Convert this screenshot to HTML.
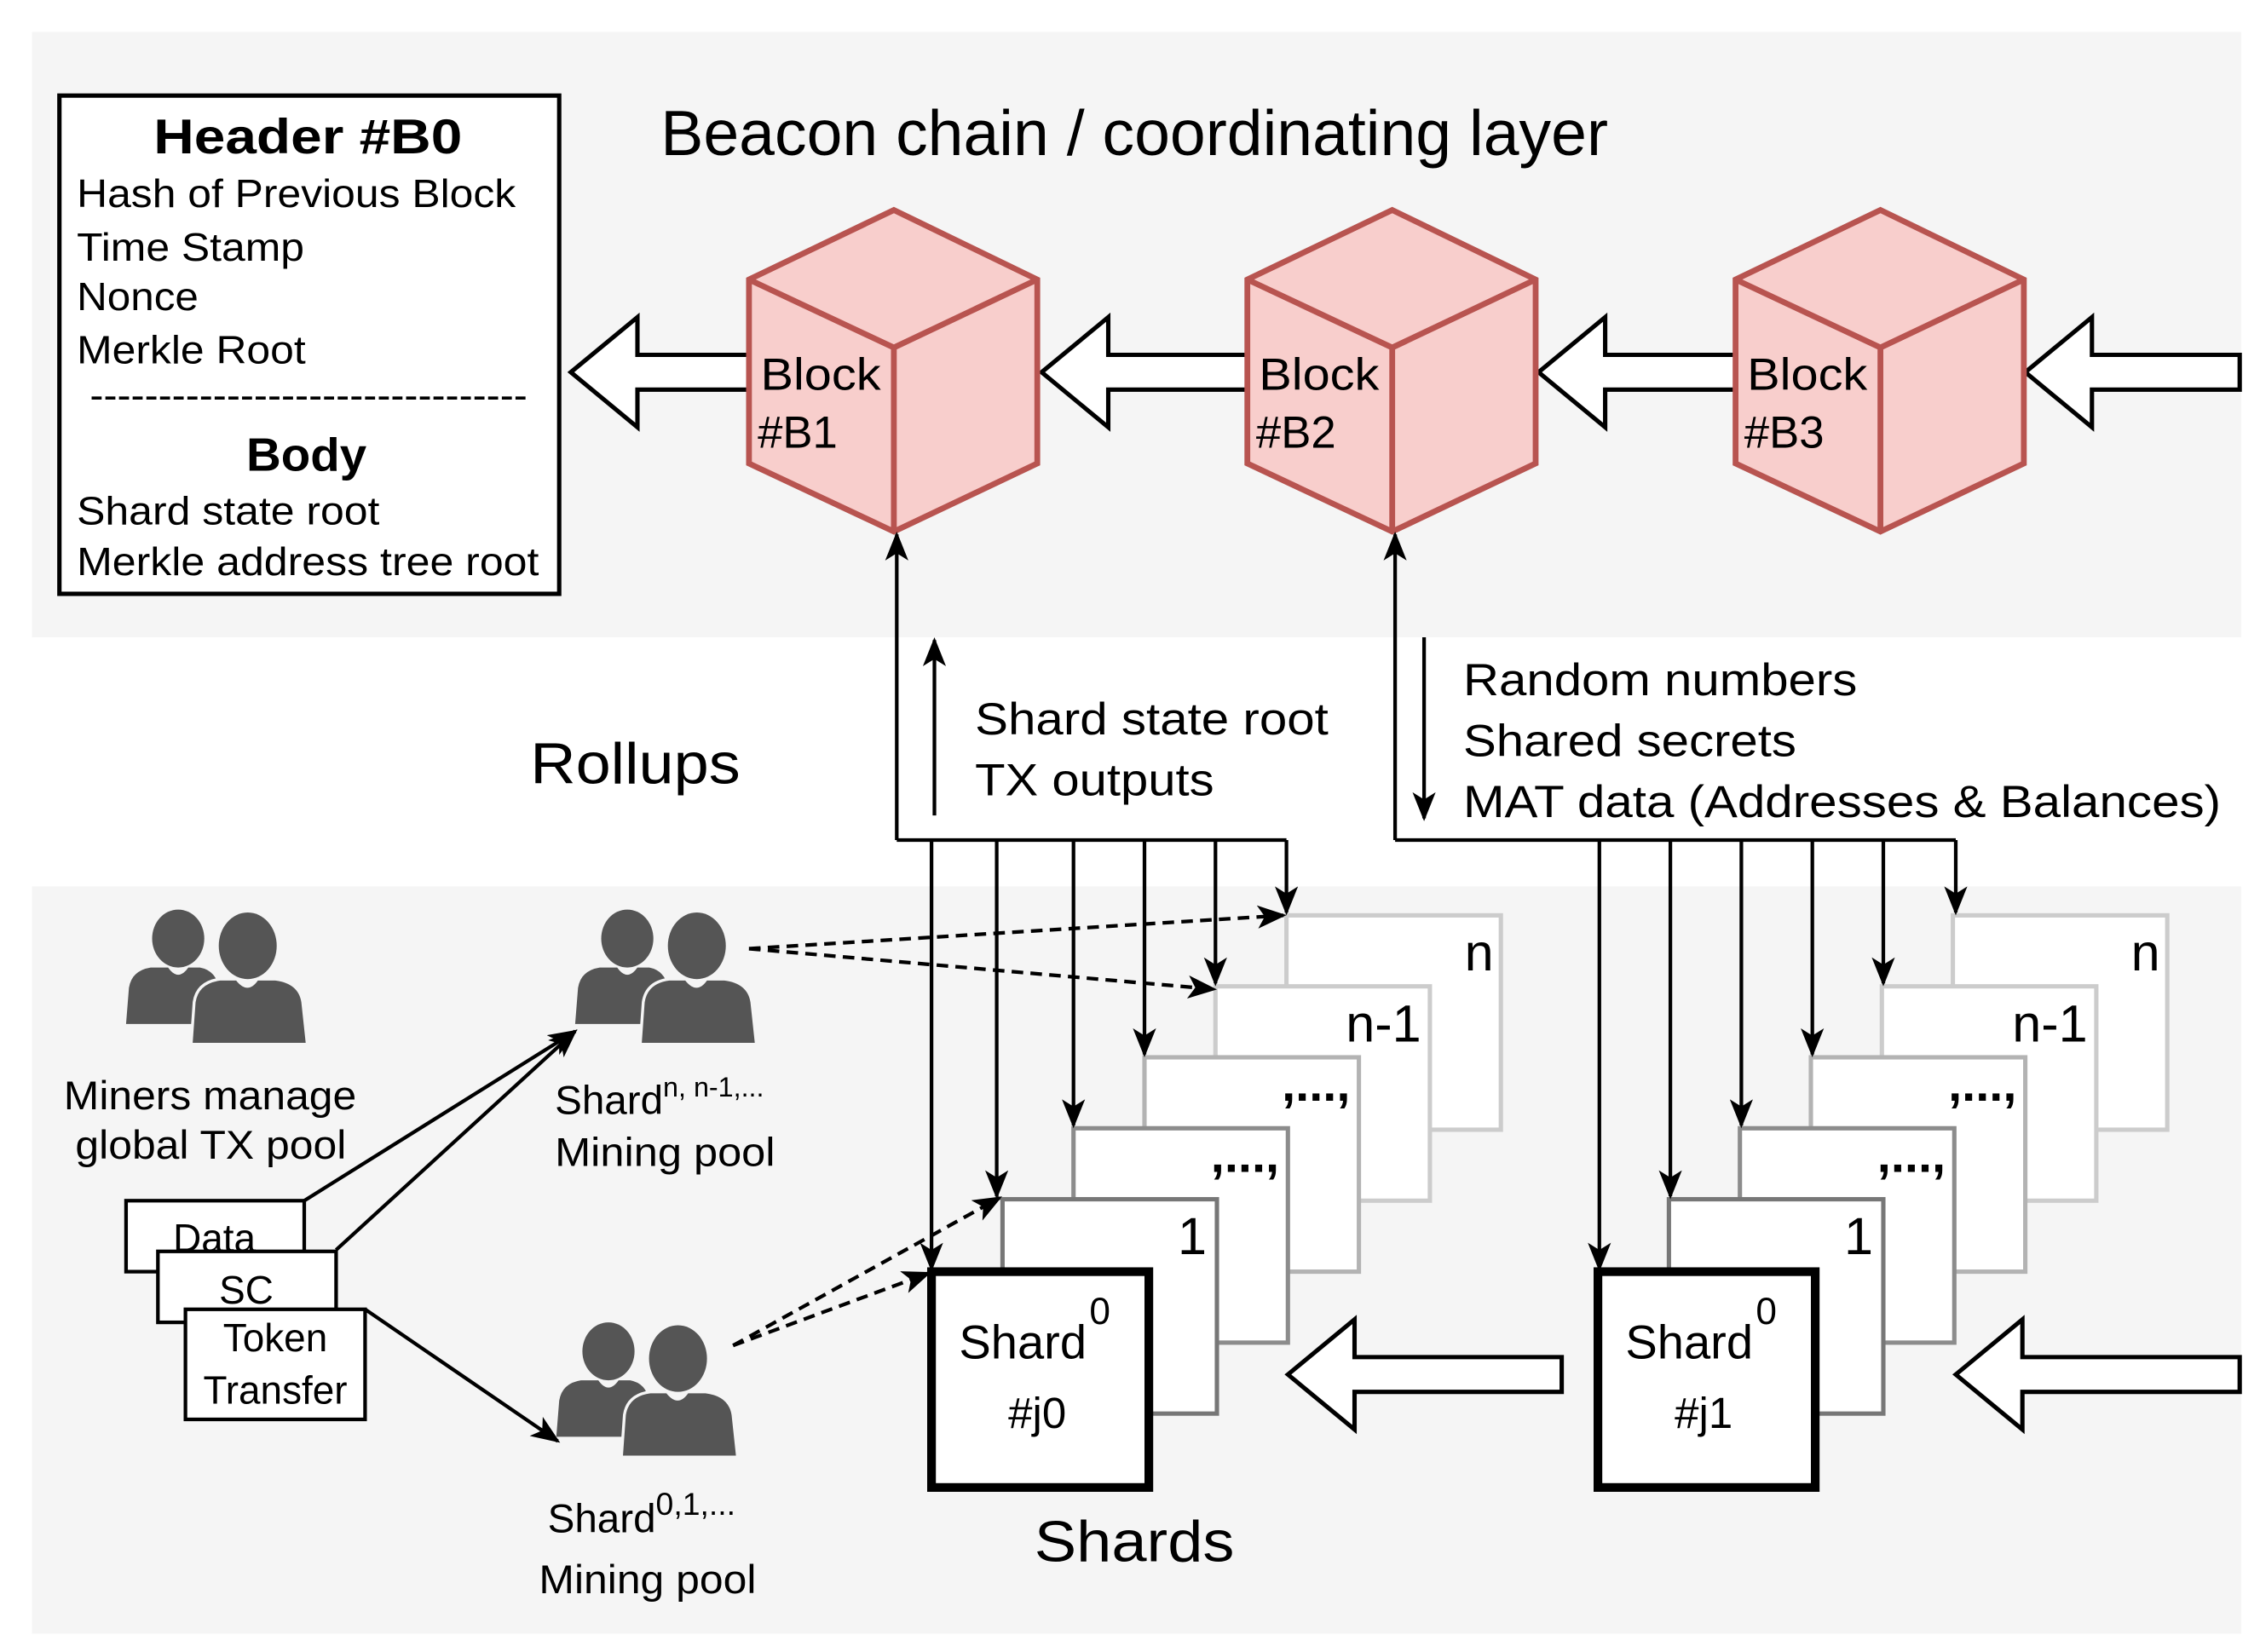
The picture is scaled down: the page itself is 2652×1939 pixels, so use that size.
<!DOCTYPE html>
<html><head><meta charset="utf-8"><style>
html,body{margin:0;padding:0;background:#fff;}
svg{display:block;}
text{font-family:"Liberation Sans",Arial,sans-serif;fill:#000;}
</style></head><body>
<svg width="2652" height="1939" viewBox="0 0 1560 1140.6" xmlns="http://www.w3.org/2000/svg">
<defs>
<marker id="ah" markerUnits="userSpaceOnUse" markerWidth="20" markerHeight="16" viewBox="0 0 20 16" refX="18" refY="8" orient="auto">
<path d="M0,0 L20,8 L0,16 L5,8 z" fill="#000"/>
</marker>
<g id="ppl">
<ellipse cx="123" cy="648" rx="18" ry="20" fill="#555"/>
<path d="M87,707 L89,682 Q91,670 104,668 L116,668 Q123,678 130,668 L138,668 Q149,670 151,682 L152,707 z" fill="#555"/>
<path d="M133,720 L135,692 Q137,679 152,677 L163,677 Q171,687 178,677 L190,677 Q206,679 208,692 L211,720 z" fill="#555" stroke="#f5f5f5" stroke-width="4" paint-order="stroke"/>
<ellipse cx="171" cy="653" rx="20" ry="23" fill="#555" stroke="#f5f5f5" stroke-width="4" paint-order="stroke"/>
</g>
</defs>

<rect x="22" y="22" width="1525" height="418" fill="#f5f5f5"/>
<rect x="22" y="612" width="1525" height="516" fill="#f5f5f5"/>

<rect x="41" y="66" width="345" height="344" fill="#fff" stroke="#000" stroke-width="3"/>
<text x="106" y="106" font-size="34" font-weight="bold" textLength="213" lengthAdjust="spacingAndGlyphs">Header #B0</text>
<g font-size="27">
<text x="53" y="143" textLength="303" lengthAdjust="spacingAndGlyphs">Hash of Previous Block</text>
<text x="53" y="180" textLength="157" lengthAdjust="spacingAndGlyphs">Time Stamp</text>
<text x="53" y="214" textLength="84" lengthAdjust="spacingAndGlyphs">Nonce</text>
<text x="53" y="251" textLength="158" lengthAdjust="spacingAndGlyphs">Merkle Root</text>
<text x="62" y="282" textLength="302" lengthAdjust="spacingAndGlyphs">--------------------------------</text>
<text x="53" y="362" textLength="209" lengthAdjust="spacingAndGlyphs">Shard state root</text>
<text x="53" y="397" textLength="319" lengthAdjust="spacingAndGlyphs">Merkle address tree root</text>
</g>
<text x="170" y="325" font-size="32" font-weight="bold" textLength="83" lengthAdjust="spacingAndGlyphs">Body</text>

<text x="456" y="107" font-size="44" textLength="654" lengthAdjust="spacingAndGlyphs">Beacon chain / coordinating layer</text>

<g fill="#fff" stroke="#000" stroke-width="3">
<path d="M394,257 L440,219 L440,245 L518,245 L518,269 L440,269 L440,295 z"/>
<path d="M719,257 L765,219 L765,245 L862,245 L862,269 L765,269 L765,295 z"/>
<path d="M1062,257 L1108,219 L1108,245 L1198,245 L1198,269 L1108,269 L1108,295 z"/>
<path d="M1398,257 L1444,219 L1444,245 L1546,245 L1546,269 L1444,269 L1444,295 z"/>
</g>

<g fill="#f8cecc" stroke="#b85450" stroke-width="4" stroke-linejoin="miter">
<path d="M517,193 L617,145 L716,193 L716,320 L617,367 L517,320 z"/>
<path d="M517,193 L617,240 L716,193 M617,240 L617,367" fill="none"/>
<path d="M861,193 L961,145 L1060,193 L1060,320 L961,367 L861,320 z"/>
<path d="M861,193 L961,240 L1060,193 M961,240 L961,367" fill="none"/>
<path d="M1198,193 L1298,145 L1397,193 L1397,320 L1298,367 L1198,320 z"/>
<path d="M1198,193 L1298,240 L1397,193 M1298,240 L1298,367" fill="none"/>
</g>
<g font-size="31">
<text x="525" y="269" textLength="83" lengthAdjust="spacingAndGlyphs">Block</text><text x="523" y="309">#B1</text>
<text x="869" y="269" textLength="83" lengthAdjust="spacingAndGlyphs">Block</text><text x="867" y="309">#B2</text>
<text x="1206" y="269" textLength="83" lengthAdjust="spacingAndGlyphs">Block</text><text x="1204" y="309">#B3</text>
</g>

<g>
<rect x="888" y="632" width="148" height="148" fill="#fff" stroke="#ccc" stroke-width="3"/>
<rect x="839" y="681" width="148" height="148" fill="#fff" stroke="#ccc" stroke-width="3"/>
<rect x="790" y="730" width="148" height="148" fill="#fff" stroke="#b3b3b3" stroke-width="3"/>
<rect x="741" y="779" width="148" height="148" fill="#fff" stroke="#8c8c8c" stroke-width="3"/>
<rect x="692" y="828" width="148" height="148" fill="#fff" stroke="#777" stroke-width="3"/>
<rect x="643" y="878" width="150" height="149" fill="#fff" stroke="#000" stroke-width="6"/>
<text x="1031" y="670" font-size="36" text-anchor="end">n</text>
<text x="981" y="719" font-size="36" text-anchor="end">n-1</text>
<text x="932" y="760" font-size="34" font-weight="bold" text-anchor="end">,...,</text>
<text x="883" y="809" font-size="34" font-weight="bold" text-anchor="end">,...,</text>
<text x="833" y="866" font-size="36" text-anchor="end">1</text>
<text x="662" y="938" font-size="33">Shard</text>
<text x="752" y="914" font-size="26">0</text>
<text x="716" y="986" font-size="30" text-anchor="middle">#j0</text>
</g>
<g transform="translate(460,0)">
<rect x="888" y="632" width="148" height="148" fill="#fff" stroke="#ccc" stroke-width="3"/>
<rect x="839" y="681" width="148" height="148" fill="#fff" stroke="#ccc" stroke-width="3"/>
<rect x="790" y="730" width="148" height="148" fill="#fff" stroke="#b3b3b3" stroke-width="3"/>
<rect x="741" y="779" width="148" height="148" fill="#fff" stroke="#8c8c8c" stroke-width="3"/>
<rect x="692" y="828" width="148" height="148" fill="#fff" stroke="#777" stroke-width="3"/>
<rect x="643" y="878" width="150" height="149" fill="#fff" stroke="#000" stroke-width="6"/>
<text x="1031" y="670" font-size="36" text-anchor="end">n</text>
<text x="981" y="719" font-size="36" text-anchor="end">n-1</text>
<text x="932" y="760" font-size="34" font-weight="bold" text-anchor="end">,...,</text>
<text x="883" y="809" font-size="34" font-weight="bold" text-anchor="end">,...,</text>
<text x="833" y="866" font-size="36" text-anchor="end">1</text>
<text x="662" y="938" font-size="33">Shard</text>
<text x="752" y="914" font-size="26">0</text>
<text x="716" y="986" font-size="30" text-anchor="middle">#j1</text>
</g>

<g stroke="#000" stroke-width="2.5" fill="none">
<path d="M619,580 L619,369" marker-end="url(#ah)"/>
<path d="M619,580 L888,580"/>
<path d="M643,580 L643,876" marker-end="url(#ah)"/>
<path d="M688,580 L688,826" marker-end="url(#ah)"/>
<path d="M741,580 L741,777" marker-end="url(#ah)"/>
<path d="M790,580 L790,728" marker-end="url(#ah)"/>
<path d="M839,580 L839,679" marker-end="url(#ah)"/>
<path d="M888,580 L888,630" marker-end="url(#ah)"/>
<path d="M963,580 L963,369" marker-end="url(#ah)"/>
<path d="M963,580 L1350,580"/>
<path d="M1104,580 L1104,876" marker-end="url(#ah)"/>
<path d="M1153,580 L1153,826" marker-end="url(#ah)"/>
<path d="M1202,580 L1202,777" marker-end="url(#ah)"/>
<path d="M1251,580 L1251,728" marker-end="url(#ah)"/>
<path d="M1300,580 L1300,679" marker-end="url(#ah)"/>
<path d="M1350,580 L1350,630" marker-end="url(#ah)"/>
<path d="M645,563 L645,442" marker-end="url(#ah)"/>
<path d="M983,440 L983,565" marker-end="url(#ah)"/>
<path d="M210,829 L397,712" marker-end="url(#ah)"/>
<path d="M232,863 L397,712" marker-end="url(#ah)"/>
<path d="M252,904 L385,995" marker-end="url(#ah)"/>
</g>
<g stroke="#000" stroke-width="2.5" fill="none" stroke-dasharray="8,5">
<path d="M517,655 L886,632" marker-end="url(#ah)"/>
<path d="M517,655 L838,683" marker-end="url(#ah)"/>
<path d="M506,929 L690,827" marker-end="url(#ah)"/>
<path d="M506,929 L641,879" marker-end="url(#ah)"/>
</g>

<g font-size="31">
<text x="673" y="507" textLength="244" lengthAdjust="spacingAndGlyphs">Shard state root</text>
<text x="673" y="549" textLength="165" lengthAdjust="spacingAndGlyphs">TX outputs</text>
<text x="1010" y="480" textLength="272" lengthAdjust="spacingAndGlyphs">Random numbers</text>
<text x="1010" y="522" textLength="230" lengthAdjust="spacingAndGlyphs">Shared secrets</text>
<text x="1010" y="564" textLength="523" lengthAdjust="spacingAndGlyphs">MAT data (Addresses &amp; Balances)</text>
</g>
<text x="366" y="541" font-size="40" textLength="145" lengthAdjust="spacingAndGlyphs">Rollups</text>
<text x="714" y="1078" font-size="40" textLength="138" lengthAdjust="spacingAndGlyphs">Shards</text>

<g fill="#fff" stroke="#000" stroke-width="3">
<path d="M889,949 L935,911 L935,937 L1078,937 L1078,961 L935,961 L935,987 z"/>
<path d="M1350,949 L1396,911 L1396,937 L1546,937 L1546,961 L1396,961 L1396,987 z"/>
</g>

<use href="#ppl"/>
<use href="#ppl" transform="translate(310,0)"/>
<use href="#ppl" transform="translate(297,285)"/>

<g font-size="28">
<text x="44" y="766" textLength="202" lengthAdjust="spacingAndGlyphs">Miners manage</text>
<text x="52" y="800" textLength="187" lengthAdjust="spacingAndGlyphs">global TX pool</text>
<text x="383" y="769">Shard<tspan font-size="19" dy="-12">n, n-1,...</tspan></text>
<text x="383" y="805" textLength="152" lengthAdjust="spacingAndGlyphs">Mining pool</text>
<text x="378" y="1058">Shard<tspan font-size="22" dy="-12">0,1,...</tspan></text>
<text x="372" y="1100" textLength="150" lengthAdjust="spacingAndGlyphs">Mining pool</text>
</g>

<rect x="87" y="829" width="123" height="49" fill="#fff" stroke="#000" stroke-width="2.5"/>
<rect x="109" y="864" width="123" height="49" fill="#fff" stroke="#000" stroke-width="2.5"/>
<rect x="128" y="904" width="124" height="76" fill="#fff" stroke="#000" stroke-width="2.5"/>
<g font-size="27" text-anchor="middle">
<text x="148" y="864">Data</text>
<text x="170" y="900">SC</text>
<text x="190" y="933">Token</text>
<text x="190" y="969">Transfer</text>
</g>
</svg>
</body></html>
